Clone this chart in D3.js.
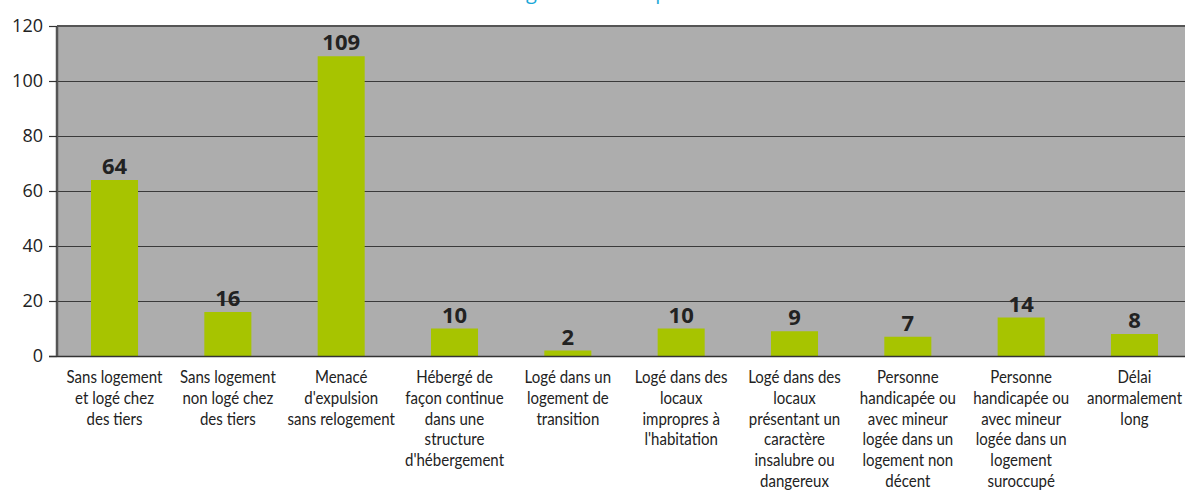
<!DOCTYPE html>
<html><head><meta charset="utf-8">
<script src="https://cdn.jsdelivr.net/npm/d3@7"></script>
<style>
html,body{margin:0;padding:0;background:#fff;}
svg{display:block;}
</style></head>
<body>
<svg id="chart" width="1185" height="491"></svg>
<script>
const titleText = "Nombre de ménages reconnus prioritaires";
const categories = [
  "Sans logement\net logé chez\ndes tiers",
  "Sans logement\nnon logé chez\ndes tiers",
  "Menacé\nd'expulsion\nsans relogement",
  "Hébergé de\nfaçon continue\ndans une\nstructure\nd'hébergement",
  "Logé dans un\nlogement de\ntransition",
  "Logé dans des\nlocaux\nimpropres à\nl'habitation",
  "Logé dans des\nlocaux\nprésentant un\ncaractère\ninsalubre ou\ndangereux",
  "Personne\nhandicapée ou\navec mineur\nlogée dans un\nlogement non\ndécent",
  "Personne\nhandicapée ou\navec mineur\nlogée dans un\nlogement\nsuroccupé",
  "Délai\nanormalement\nlong"
];
const values = [64, 16, 109, 10, 2, 10, 9, 7, 14, 8];
const yTicks = [0, 20, 40, 60, 80, 100, 120];

const svg = d3.select("#chart");
const W = 1185;
const x = d3.scaleBand().domain(categories).range([57, 1192]).paddingInner(0.585).paddingOuter(0.3);
const y = d3.scaleLinear().domain([0, 120]).range([356, 26]);

// plot background
svg.append("rect").attr("x", 57).attr("y", y(120)).attr("width", W - 57).attr("height", y(0) - y(120)).attr("fill", "#adadad");

// gridlines
svg.append("g").selectAll("line").data(yTicks.filter(t => t > 0 && t < 120)).join("line")
  .attr("x1", 57).attr("x2", W).attr("y1", d => y(d) + 0.5).attr("y2", d => y(d) + 0.5)
  .attr("stroke", "#3a3a3a").attr("stroke-width", 1);

// bars
svg.append("g").selectAll("rect").data(values).join("rect")
  .attr("x", (d, i) => x(categories[i])).attr("width", x.bandwidth())
  .attr("y", d => y(d)).attr("height", d => y(0) - y(d)).attr("fill", "#a7c400");

// top border and baseline
svg.append("line").attr("x1", 57).attr("x2", W).attr("y1", y(120)).attr("y2", y(120)).attr("stroke", "#555").attr("stroke-width", 2);
svg.append("line").attr("x1", 49).attr("x2", W).attr("y1", y(0) + 0.5).attr("y2", y(0) + 0.5).attr("stroke", "#333").attr("stroke-width", 1.5);

// y axis
const yAxis = d3.axisLeft(y).tickValues(yTicks).tickSize(8).tickPadding(6).tickFormat(d3.format("d"));
const ya = svg.append("g").attr("transform", "translate(57,0)").call(yAxis);
ya.select(".domain").attr("stroke", "#555").attr("stroke-width", 2.5).attr("d", `M0,${y(120)}V${y(0)}`);
ya.selectAll(".tick line").attr("stroke", "#333").attr("stroke-width", 1.2);
ya.selectAll(".tick text").attr("fill", "#222").style("font-family", "'Open Sans', sans-serif").style("font-size", "18px");

// value labels
svg.append("g").selectAll("text").data(values).join("text")
  .attr("x", (d, i) => x(categories[i]) + x.bandwidth() / 2)
  .attr("y", d => y(d) - 6)
  .attr("text-anchor", "middle")
  .attr("fill", "#222")
  .style("font-family", "'Open Sans', sans-serif").style("font-weight", "bold").style("font-size", "22px")
  .text(d => d);

// category labels (condensed look via horizontal scaling)
const condense = 0.835;
const cl = svg.append("g").selectAll("text").data(categories).join("text")
  .attr("transform", d => `translate(${x(d) + x.bandwidth() / 2},0) scale(${condense},1)`)
  .attr("text-anchor", "middle")
  .attr("fill", "#222")
  .style("font-family", "Lato, 'Open Sans', sans-serif").style("font-size", "18px");
cl.each(function(d) {
  const t = d3.select(this);
  d.split("\n").forEach((line, k) => {
    t.append("tspan").attr("x", 0).attr("y", 383 + k * 20.8).text(line);
  });
});

// title (mostly above the visible area, as in the reference)
svg.append("text").attr("x", 560).attr("y", -1).attr("text-anchor", "middle")
  .attr("fill", "#1ba8d8").style("font-family", "'Open Sans', sans-serif").style("font-size", "20px")
  .text(titleText);
</script>
</body></html>
